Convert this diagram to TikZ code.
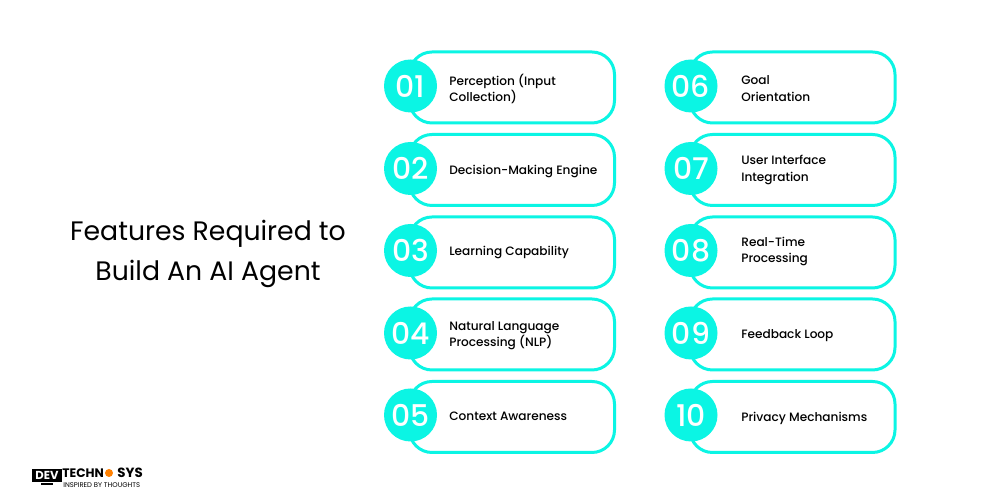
\documentclass[tikz,border=0pt]{standalone}
\usepackage{fontspec}
\setmainfont{Poppins}
\newfontfamily\mediumfont{Poppins Medium}
\usetikzlibrary{positioning}
\definecolor{aqua}{HTML}{0BF5E4}
\tikzset{
    itembox/.style={draw=aqua, line width=0.06cm, rounded corners=0.45cm, fill=white, minimum width=4.1cm, minimum height=1.42cm},
    numdisc/.style={circle, fill=aqua, minimum size=1.06cm, inner sep=0pt, text=white, font=\mediumfont\fontsize{17}{17}\selectfont},
    itemtext/.style={anchor=west, inner sep=0pt, align=left, text=black, font=\mediumfont\fontsize{6.9}{9.4}\selectfont},
    logotext/.style={anchor=west, inner sep=0pt, font=\fontsize{7}{7}\selectfont\bfseries},
}
\begin{document}
\begin{tikzpicture}
    \useasboundingbox (0,0) rectangle (20,10);
    \fill[white] (0,0) rectangle (20,10);
    % title
    \node[align=center, font=\fontsize{15.2}{22.8}\selectfont] (title) at (4.16,4.92) {Features Required to\\Build An AI Agent};
    % left column
    \node[itembox] (box1) at (10.24,8.25) {};
    \node[numdisc] (num1) at (8.21,8.28) {01};
    \node[itemtext] (text1) at (8.98,8.22) {Perception (Input\\Collection)};
    \node[itembox] (box2) at (10.24,6.6) {};
    \node[numdisc] (num2) at (8.21,6.63) {02};
    \node[itemtext] (text2) at (8.98,6.58) {Decision-Making Engine};
    \node[itembox] (box3) at (10.24,4.95) {};
    \node[numdisc] (num3) at (8.21,4.99) {03};
    \node[itemtext] (text3) at (8.98,4.95) {Learning Capability};
    \node[itembox] (box4) at (10.24,3.31) {};
    \node[numdisc] (num4) at (8.21,3.34) {04};
    \node[itemtext] (text4) at (8.98,3.29) {Natural Language\\Processing (NLP)};
    \node[itembox] (box5) at (10.24,1.66) {};
    \node[numdisc] (num5) at (8.21,1.7) {05};
    \node[itemtext] (text5) at (8.98,1.67) {Context Awareness};
    % right column
    \node[itembox] (box6) at (15.85,8.25) {};
    \node[numdisc] (num6) at (13.82,8.28) {06};
    \node[itemtext] (text6) at (14.82,8.23) {Goal\\Orientation};
    \node[itembox] (box7) at (15.85,6.6) {};
    \node[numdisc] (num7) at (13.82,6.63) {07};
    \node[itemtext] (text7) at (14.82,6.6) {User Interface\\Integration};
    \node[itembox] (box8) at (15.85,4.95) {};
    \node[numdisc] (num8) at (13.82,4.99) {08};
    \node[itemtext] (text8) at (14.82,4.97) {Real-Time\\Processing};
    \node[itembox] (box9) at (15.85,3.31) {};
    \node[numdisc] (num9) at (13.82,3.34) {09};
    \node[itemtext] (text9) at (14.82,3.29) {Feedback Loop};
    \node[itembox] (box10) at (15.85,1.66) {};
    \node[numdisc] (num10) at (13.82,1.7) {10};
    \node[itemtext] (text10) at (14.82,1.63) {Privacy Mechanisms};
    % logo
    \fill[black] (0.64,0.62) rectangle (1.24,0.36);
    \fill[black] (0.82,0.34) rectangle (1.06,0.29);
    \node[text=white, inner sep=0pt, font=\fontsize{6.6}{6.6}\selectfont\bfseries] (logodev) at (0.94,0.49) {DEV};
    \node[logotext] (logotech) at (1.24,0.54) {TECHN};
    \fill[orange] (2.18,0.54) circle (0.08);
    \node[logotext, font=\fontsize{7.6}{7.6}\selectfont\bfseries] (logosys) at (2.34,0.54) {SYS};
    \node[anchor=west, inner sep=0pt, font=\fontsize{3.9}{3.9}\selectfont] (logotag) at (1.26,0.3) {INSPIRED BY THOUGHTS};
\end{tikzpicture}
\end{document}
